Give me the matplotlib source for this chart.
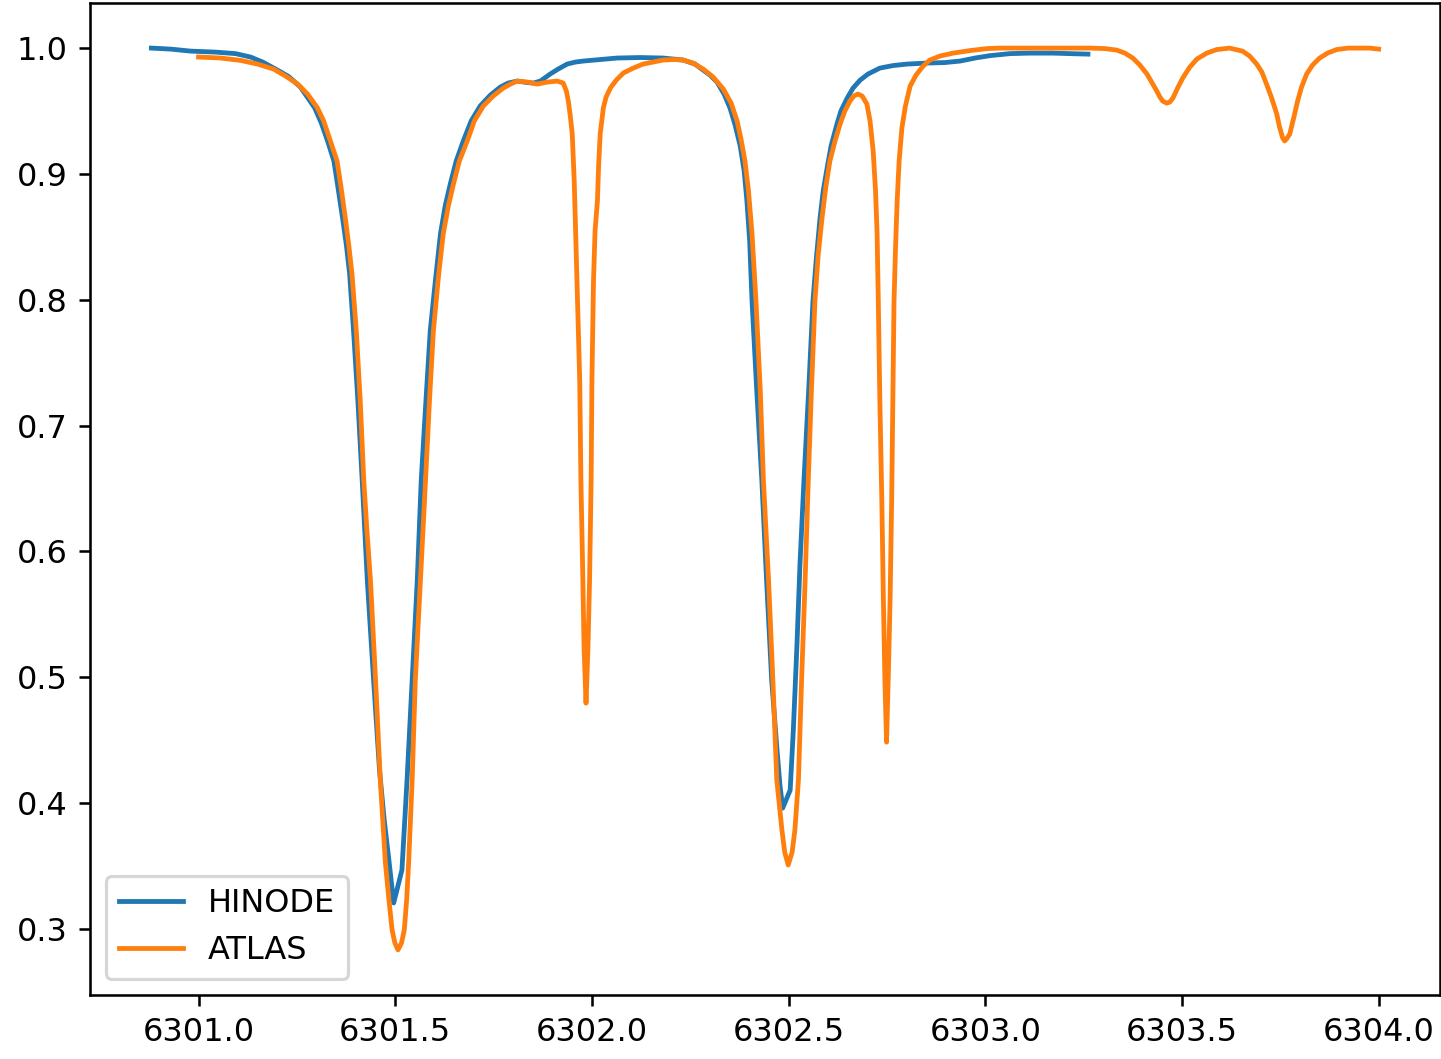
import matplotlib
matplotlib.use("Agg")
import matplotlib.pyplot as plt

# Hinode spectrum (wavelength in Angstrom, normalised intensity)
hinode_wl = [
    6300.880, 6300.929, 6300.980, 6301.043, 6301.094, 6301.132, 6301.163, 6301.196,
    6301.229, 6301.259, 6301.295, 6301.312, 6301.328, 6301.344, 6301.353, 6301.366,
    6301.376, 6301.384, 6301.394, 6301.405, 6301.416, 6301.429, 6301.445, 6301.460,
    6301.472, 6301.483, 6301.496, 6301.517, 6301.530, 6301.543, 6301.556, 6301.566,
    6301.578, 6301.589, 6301.602, 6301.615, 6301.627, 6301.640, 6301.655, 6301.673,
    6301.693, 6301.716, 6301.742, 6301.767, 6301.787, 6301.810, 6301.836, 6301.851,
    6301.869, 6301.894, 6301.914, 6301.937, 6301.958, 6301.978, 6302.021, 6302.064,
    6302.123, 6302.181, 6302.232, 6302.262, 6302.283, 6302.300, 6302.318, 6302.336,
    6302.351, 6302.364, 6302.377, 6302.387, 6302.394, 6302.401, 6302.407, 6302.419,
    6302.432, 6302.444, 6302.457, 6302.470, 6302.478, 6302.485, 6302.504, 6302.512,
    6302.521, 6302.529, 6302.539, 6302.551, 6302.562, 6302.570, 6302.580, 6302.588,
    6302.598, 6302.608, 6302.623, 6302.633, 6302.649, 6302.664, 6302.682, 6302.702,
    6302.732, 6302.765, 6302.801, 6302.852, 6302.897, 6302.936, 6302.974, 6303.012,
    6303.063, 6303.113, 6303.172, 6303.215, 6303.261,
]
hinode_int = [
    1.0000, 0.9992, 0.9976, 0.9968, 0.9956, 0.9929, 0.9889, 0.9833,
    0.9774, 0.9690, 0.9526, 0.9405, 0.9262, 0.9103, 0.8921, 0.8651,
    0.8429, 0.8206, 0.7754, 0.7198, 0.6563, 0.5770, 0.4976, 0.4262,
    0.3865, 0.3571, 0.3206, 0.3468, 0.4183, 0.4976, 0.5770, 0.6563,
    0.7198, 0.7754, 0.8151, 0.8524, 0.8746, 0.8921, 0.9103, 0.9262,
    0.9421, 0.9540, 0.9627, 0.9690, 0.9722, 0.9738, 0.9726, 0.9722,
    0.9738, 0.9794, 0.9833, 0.9873, 0.9889, 0.9897, 0.9909, 0.9921,
    0.9925, 0.9921, 0.9905, 0.9873, 0.9825, 0.9786, 0.9730, 0.9635,
    0.9524, 0.9389, 0.9222, 0.9024, 0.8786, 0.8468, 0.7992, 0.7278,
    0.6563, 0.5770, 0.4976, 0.4444, 0.4143, 0.3960, 0.4103, 0.4579,
    0.5238, 0.5905, 0.6563, 0.7278, 0.7992, 0.8310, 0.8651, 0.8865,
    0.9048, 0.9222, 0.9397, 0.9500, 0.9603, 0.9683, 0.9746, 0.9794,
    0.9841, 0.9861, 0.9873, 0.9881, 0.9885, 0.9897, 0.9921, 0.9940,
    0.9956, 0.9960, 0.9960, 0.9956, 0.9952,
]

# ATLAS reference spectrum
atlas_wl = [
    6301.000, 6301.056, 6301.107, 6301.150, 6301.191, 6301.221, 6301.252, 6301.277,
    6301.302, 6301.318, 6301.335, 6301.352, 6301.361, 6301.373, 6301.382, 6301.390,
    6301.401, 6301.411, 6301.420, 6301.428, 6301.437, 6301.450, 6301.462, 6301.475,
    6301.484, 6301.492, 6301.499, 6301.507, 6301.516, 6301.523, 6301.529, 6301.534,
    6301.543, 6301.551, 6301.564, 6301.577, 6301.587, 6301.597, 6301.610, 6301.622,
    6301.635, 6301.648, 6301.663, 6301.683, 6301.701, 6301.724, 6301.749, 6301.775,
    6301.793, 6301.810, 6301.836, 6301.861, 6301.887, 6301.912, 6301.927, 6301.935,
    6301.940, 6301.945, 6301.950, 6301.955, 6301.962, 6301.969, 6301.972, 6301.977,
    6301.980, 6301.985, 6301.990, 6301.994, 6301.998, 6302.000, 6302.004, 6302.008,
    6302.014, 6302.017, 6302.021, 6302.029, 6302.036, 6302.047, 6302.062, 6302.080,
    6302.105, 6302.130, 6302.156, 6302.181, 6302.207, 6302.232, 6302.257, 6302.283,
    6302.308, 6302.334, 6302.354, 6302.369, 6302.379, 6302.389, 6302.398, 6302.407,
    6302.417, 6302.428, 6302.436, 6302.449, 6302.460, 6302.470, 6302.483, 6302.490,
    6302.499, 6302.509, 6302.516, 6302.525, 6302.533, 6302.542, 6302.550, 6302.558,
    6302.567, 6302.575, 6302.585, 6302.595, 6302.605, 6302.618, 6302.631, 6302.643,
    6302.656, 6302.666, 6302.676, 6302.687, 6302.699, 6302.707, 6302.715, 6302.721,
    6302.725, 6302.728, 6302.732, 6302.737, 6302.741, 6302.745, 6302.749, 6302.753,
    6302.758, 6302.762, 6302.765, 6302.768, 6302.772, 6302.776, 6302.781, 6302.788,
    6302.797, 6302.809, 6302.824, 6302.842, 6302.859, 6302.885, 6302.918, 6302.961,
    6303.004, 6303.037, 6303.113, 6303.190, 6303.266, 6303.304, 6303.334, 6303.355,
    6303.375, 6303.393, 6303.411, 6303.423, 6303.436, 6303.444, 6303.451, 6303.461,
    6303.469, 6303.477, 6303.489, 6303.502, 6303.520, 6303.538, 6303.563, 6303.588,
    6303.621, 6303.654, 6303.672, 6303.690, 6303.703, 6303.715, 6303.728, 6303.741,
    6303.748, 6303.756, 6303.761, 6303.766, 6303.774, 6303.784, 6303.794, 6303.804,
    6303.817, 6303.832, 6303.850, 6303.870, 6303.893, 6303.921, 6303.952, 6303.977,
    6304.000,
]
atlas_int = [
    0.9929, 0.9921, 0.9902, 0.9873, 0.9833, 0.9778, 0.9714, 0.9635,
    0.9526, 0.9421, 0.9262, 0.9103, 0.8921, 0.8651, 0.8429, 0.8206,
    0.7754, 0.7198, 0.6563, 0.6167, 0.5770, 0.4976, 0.4183, 0.3524,
    0.3230, 0.2992, 0.2889, 0.2833, 0.2889, 0.2992, 0.3230, 0.3524,
    0.4183, 0.4976, 0.5770, 0.6563, 0.7198, 0.7754, 0.8190, 0.8524,
    0.8746, 0.8921, 0.9103, 0.9262, 0.9421, 0.9540, 0.9619, 0.9683,
    0.9714, 0.9738, 0.9730, 0.9714, 0.9730, 0.9738, 0.9722, 0.9659,
    0.9579, 0.9460, 0.9317, 0.8944, 0.8151, 0.7357, 0.6563, 0.5770,
    0.5238, 0.4794, 0.5238, 0.5770, 0.6563, 0.7357, 0.8151, 0.8548,
    0.8786, 0.9063, 0.9317, 0.9524, 0.9611, 0.9683, 0.9746, 0.9802,
    0.9841, 0.9873, 0.9889, 0.9905, 0.9909, 0.9905, 0.9881, 0.9833,
    0.9770, 0.9675, 0.9563, 0.9421, 0.9278, 0.9103, 0.8865, 0.8524,
    0.7992, 0.7278, 0.6563, 0.5770, 0.4976, 0.4183, 0.3786, 0.3611,
    0.3508, 0.3611, 0.3786, 0.4183, 0.4976, 0.5770, 0.6563, 0.7278,
    0.7992, 0.8349, 0.8651, 0.8905, 0.9103, 0.9262, 0.9397, 0.9500,
    0.9579, 0.9619, 0.9635, 0.9619, 0.9556, 0.9421, 0.9183, 0.8865,
    0.8524, 0.7992, 0.7198, 0.6405, 0.5611, 0.4952, 0.4484, 0.4952,
    0.5611, 0.6405, 0.7198, 0.7992, 0.8429, 0.8786, 0.9103, 0.9365,
    0.9540, 0.9698, 0.9786, 0.9857, 0.9905, 0.9937, 0.9960, 0.9980,
    0.9996, 1.0000, 1.0000, 1.0000, 1.0000, 0.9996, 0.9984, 0.9960,
    0.9921, 0.9865, 0.9794, 0.9730, 0.9659, 0.9611, 0.9579, 0.9563,
    0.9571, 0.9603, 0.9683, 0.9762, 0.9849, 0.9913, 0.9960, 0.9988,
    1.0000, 0.9976, 0.9937, 0.9873, 0.9810, 0.9714, 0.9603, 0.9476,
    0.9373, 0.9286, 0.9262, 0.9278, 0.9317, 0.9444, 0.9579, 0.9690,
    0.9794, 0.9865, 0.9921, 0.9960, 0.9988, 1.0000, 1.0000, 1.0000,
    0.9992,
]

W, H, DPI = 1441, 1059, 230
fig = plt.figure(figsize=(W / DPI, H / DPI), dpi=DPI)
ax = fig.add_axes([90 / W, 1 - 995 / H, 1350 / W, 992 / H])

ax.plot(hinode_wl, hinode_int, label="HINODE")
ax.plot(atlas_wl, atlas_int, label="ATLAS")
ax.legend(loc="lower left")

fig.savefig("out.png", dpi=DPI)
